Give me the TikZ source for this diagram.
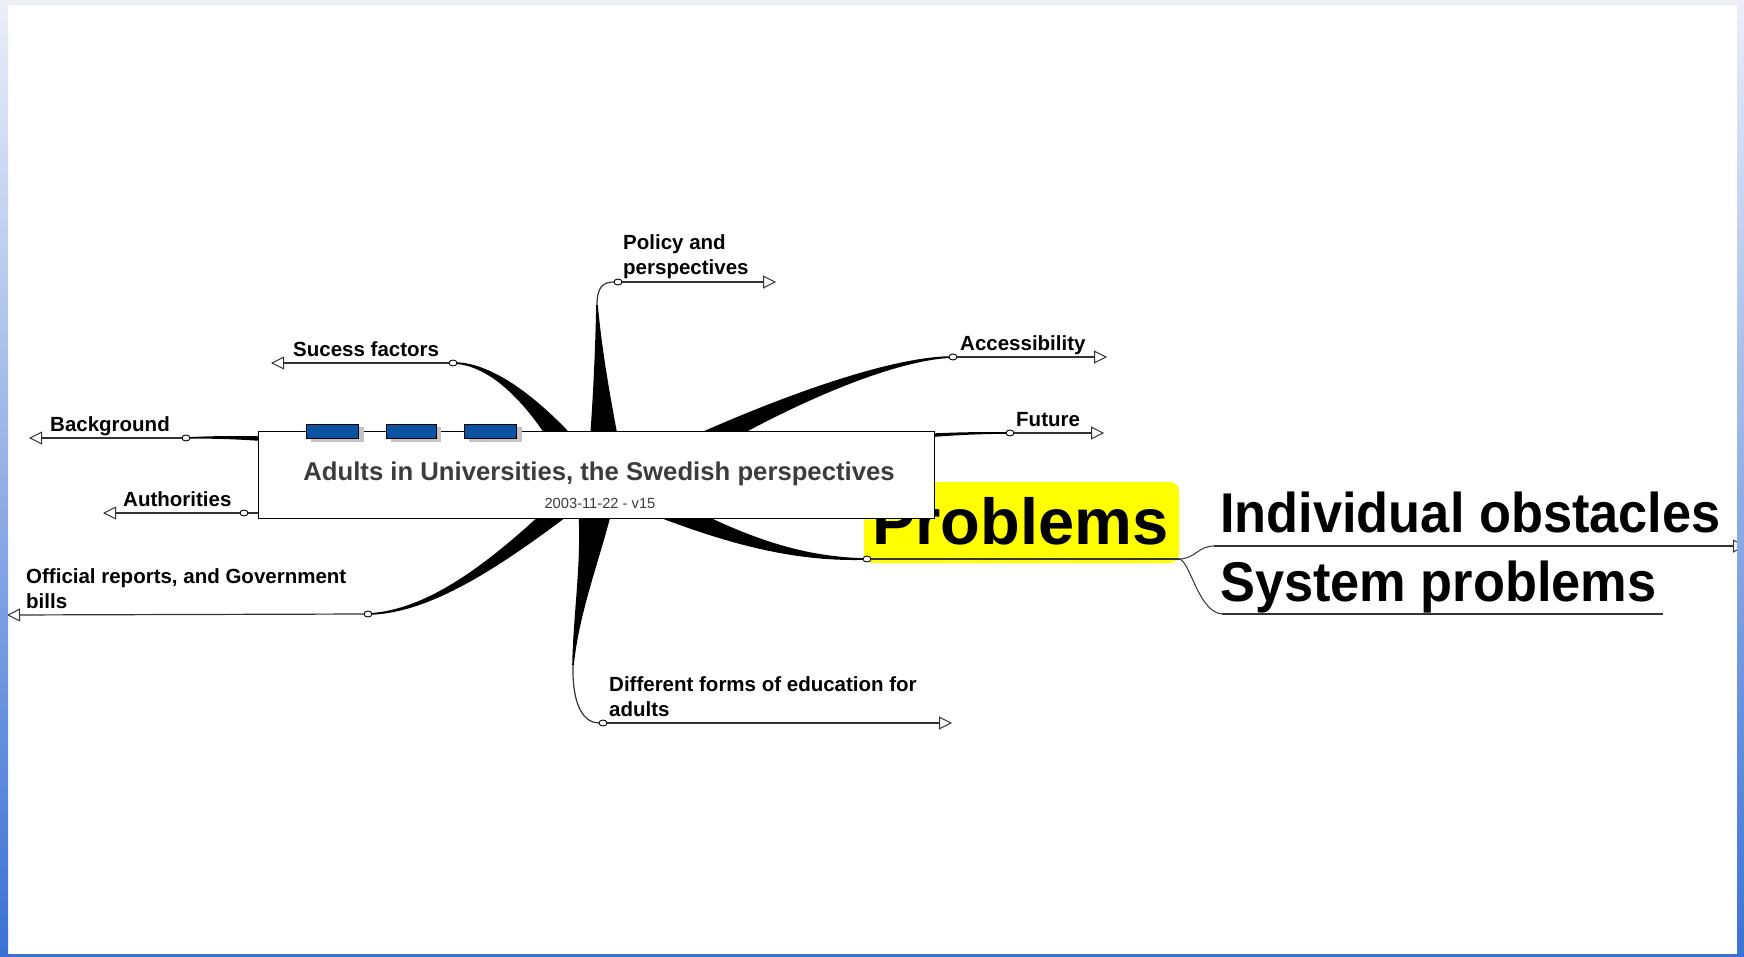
\documentclass[tikz,border=0pt]{standalone}
\usepackage{fontspec}
\setmainfont{Liberation Sans}
\usetikzlibrary{calc,arrows.meta,shapes.geometric}
\definecolor{linegray}{HTML}{333333}
\definecolor{titlegray}{HTML}{3C3C3C}
\definecolor{boxblue}{HTML}{0B52A3}
\definecolor{shadowgray}{HTML}{C4C4C4}
\definecolor{stripTop}{HTML}{ECEEF8}
\definecolor{stripBot}{HTML}{3A72D4}
\definecolor{topbar}{HTML}{EDF0F5}
\definecolor{hilite}{HTML}{FFFF00}
% tapered branch: four centreline points, four half widths
\newcommand\taperfill[8]{%
  \fill[branch] ($(#1)!#5!90:(#2)$) .. controls ($(#2)!#6!90:(#3)$) and ($(#3)!#7!90:(#4)$) .. ($(#4)!#8!-90:(#3)$)
    -- ($(#4)!#8!90:(#3)$) .. controls ($(#3)!#7!-90:(#4)$) and ($(#2)!#6!-90:(#3)$) .. ($(#1)!#5!-90:(#2)$) -- cycle;}
\begin{document}
\begin{tikzpicture}[x=1pt,y=-1pt,
  thinline/.style={draw=linegray, line width=1.2pt},
  arrowline/.style={thinline, -{Triangle[fill=white,length=13pt,width=13pt,line width=1pt]}},
  knob/.style={ellipse, draw=black, fill=white, line width=0.9pt, minimum width=8pt, minimum height=6pt, inner sep=0pt, outer sep=0pt},
  lbl/.style={font=\fontsize{20.5}{25}\selectfont\bfseries, anchor=base west, align=left, inner sep=0pt},
  branch/.style={fill=black},
  bluebox/.style={draw=black, fill=boxblue, line width=0.8pt, minimum height=14pt, inner sep=0pt},
  bigtxt/.style={font=\fontsize{56}{60}\selectfont\bfseries, anchor=base west, inner sep=0pt},
]
\useasboundingbox (0,0) rectangle (1744,957);
% page background
\fill[white] (0,0) rectangle (1744,957);
\fill[topbar] (0,0) rectangle (1744,5);

% centreline points of the tapered branches
\coordinate (sf0) at (588,478); \coordinate (sf1) at (545,410); \coordinate (sf2) at (495,363); \coordinate (sf3) at (453,363);
\coordinate (po0) at (606,475); \coordinate (po1) at (603,418); \coordinate (po2) at (599,362); \coordinate (po3) at (597,305);
\coordinate (ac0) at (645,475); \coordinate (ac1) at (740,420); \coordinate (ac2) at (880,358); \coordinate (ac3) at (953,357);
\coordinate (fu0) at (596,475); \coordinate (fu1) at (780,455); \coordinate (fu2) at (880,432); \coordinate (fu3) at (1010,433);
\coordinate (bg0) at (596,475); \coordinate (bg1) at (420,455); \coordinate (bg2) at (300,434); \coordinate (bg3) at (186,438);
\coordinate (of0) at (600,475); \coordinate (of1) at (520,545); \coordinate (of2) at (440,612); \coordinate (of3) at (368,614);
\coordinate (df0) at (597,470); \coordinate (df1) at (597,540); \coordinate (df2) at (577,600); \coordinate (df3) at (573,665);
\coordinate (pr0) at (596,475); \coordinate (pr1) at (690,520); \coordinate (pr2) at (770,560); \coordinate (pr3) at (867,559);

% Problems highlight
\fill[hilite, rounded corners=9pt] (864,482) rectangle (1179,563);
\node[font=\fontsize{65}{70}\selectfont\bfseries, anchor=base west, inner sep=0pt] (probl) at (872,544) {Problems};

% tapered branches
\taperfill{sf0}{sf1}{sf2}{sf3}{16pt}{7pt}{1.6pt}{0.8pt}
\taperfill{po0}{po1}{po2}{po3}{19pt}{11pt}{4pt}{0.8pt}
\taperfill{ac0}{ac1}{ac2}{ac3}{15pt}{7.5pt}{2pt}{0.8pt}
\taperfill{fu0}{fu1}{fu2}{fu3}{10pt}{5pt}{2pt}{0.8pt}
\taperfill{bg0}{bg1}{bg2}{bg3}{12pt}{6pt}{3pt}{0.7pt}
\taperfill{of0}{of1}{of2}{of3}{13pt}{6pt}{2pt}{0.8pt}
\taperfill{df0}{df1}{df2}{df3}{24pt}{11pt}{3.5pt}{0.8pt}
\taperfill{pr0}{pr1}{pr2}{pr3}{16pt}{10pt}{3pt}{0.8pt}

% central box
\node[draw=black, fill=white, line width=1pt, minimum width=676pt, minimum height=87pt, inner sep=0pt] (cbox) at (596,475) {};
\fill[shadowgray] (311,427) rectangle (364,442);
\fill[shadowgray] (391,427) rectangle (441,442);
\fill[shadowgray] (469,427) rectangle (522,442);
\node[bluebox, minimum width=52pt] (b1) at (332,431) {};
\node[bluebox, minimum width=50pt] (b2) at (411,431) {};
\node[bluebox, minimum width=52pt] (b3) at (490,431) {};
\node[font=\fontsize{25.7}{30}\selectfont\bfseries, text=titlegray, anchor=base, inner sep=0pt] (title) at (599,480) {Adults in Universities, the Swedish perspectives};
\node[font=\fontsize{14.7}{17}\selectfont, text=titlegray, anchor=base, inner sep=0pt] (date) at (600,508) {2003-11-22 - v15};

% knobs
\node[knob] (bgk) at (186,438) {};
\node[knob] (auk) at (244,513) {};
\node[knob] (ofk) at (368,614) {};
\node[knob] (sfk) at (453,363) {};
\node[knob] (pok) at (618,282) {};
\node[knob] (ack) at (953,357) {};
\node[knob] (fuk) at (1010,433) {};
\node[knob] (dfk) at (603,723) {};
\node[knob] (prk) at (867,559) {};

% arrow ends
\coordinate (bgt) at (29,438);
\coordinate (aut) at (103,513);
\coordinate (oft) at (7,615);
\coordinate (sft) at (271,363);
\coordinate (pot) at (776,282);
\coordinate (act) at (1107,357);
\coordinate (fut) at (1104,433);
\coordinate (dft) at (952,723);
\coordinate (prend) at (1179,559);
\coordinate (iostart) at (1214,546);
\coordinate (iot) at (1746,546);
\coordinate (spstart) at (1222,614);
\coordinate (spend) at (1663,614);

\draw[arrowline] (bgk) -- (bgt);
\draw[arrowline] (auk) -- (aut);
\draw[thinline] (auk) -- (auk -| cbox.west);
\draw[arrowline] (ofk) -- (oft);
\draw[arrowline] (sfk) -- (sft);
\draw[arrowline] (pok) -- (pot);
\draw[thinline] (po3) .. controls (597,287) and (603,282) .. (pok.west);
\draw[arrowline] (ack) -- (act);
\draw[arrowline] (fuk) -- (fut);
\draw[arrowline] (dfk) -- (dft);
\draw[thinline] (df3) .. controls (572,708) and (585,723) .. (dfk.west);
\draw[thinline] (prk) -- (prend);
\draw[thinline, line width=1pt] (prend) .. controls (1195,559) and (1198,546) .. (iostart);
\draw[thinline, line width=1pt] (prend) .. controls (1190,560) and (1198,612) .. (spstart);
\draw[arrowline] (iostart) -- (iot);
\draw[thinline] (spstart) -- (spend);

% labels (multi-line labels are placed by their last line)
\node[lbl] (bgl) at (50,431) {Background};
\node[lbl] (aul) at (123,506) {Authorities};
\node[lbl] (ofl) at (26,608) {Official reports, and Government\\bills};
\node[lbl] (sfl) at (293,356) {Sucess factors};
\node[lbl] (pol) at (623,275) {Policy and\\perspectives};
\node[lbl] (acl) at (960,350) {Accessibility};
\node[lbl] (ful) at (1016,426) {Future};
\node[lbl] (dfl) at (609,716) {Different forms of education for\\adults};
\node[bigtxt] (iol) at (1220,532) {\scalebox{0.935}[1]{Individual obstacles}};
\node[bigtxt] (spl) at (1220,601) {\scalebox{0.935}[1]{System problems}};

% window edges
\shade[top color=stripTop, bottom color=stripBot] (0,0) rectangle (8,957);
\shade[top color=stripTop, bottom color=stripBot] (1737,0) rectangle (1744,957);
\fill[stripBot] (0,954) rectangle (1744,957);
\end{tikzpicture}
\end{document}
